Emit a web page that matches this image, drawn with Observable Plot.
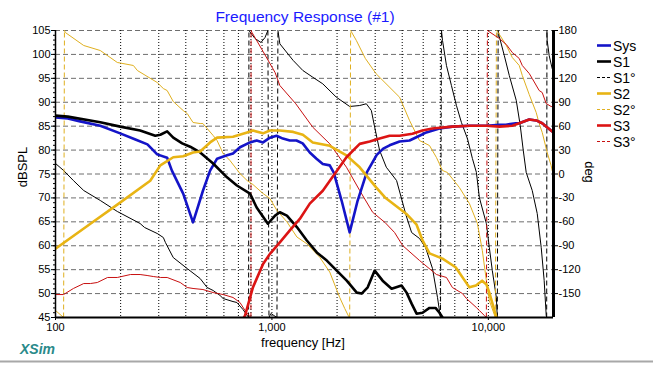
<!DOCTYPE html>
<html><head><meta charset="utf-8">
<script src="https://cdn.jsdelivr.net/npm/d3@7"></script>
<script src="https://cdn.jsdelivr.net/npm/@observablehq/plot@0.6"></script>
<style>
body{margin:0;background:#fff;}
#wrap{position:relative;width:653px;height:365px;overflow:hidden;}
</style></head>
<body><div id="wrap"></div>
<script>
// ---- data ----
const dbTicks = [45,50,55,60,65,70,75,80,85,90,95,100,105];
const degTicks = [180,150,120,90,60,30,0,-30,-60,-90,-120,-150];
const freqTicks = [100,1000,10000];
const freqGrid = [200,300,400,500,600,700,800,900,1000,2000,3000,4000,5000,6000,7000,8000,9000,10000];

const sysF  = [100,114,130,161,199,234,266,295,328,345,389,432,480,518,558,620,661,712,792,850,910,979,1050,1124,1210,1298,1387,1496,1607,1718,1850,1931,2100,2287,2488,2740,3050,3268,3497,3889,4324,4808,5170,5944,6820,8172,9800,11235,12040,13390,13890,15446,16640,17740,19720];
const sysDb = [86.8,86.6,86.0,85.1,83.5,82.2,81.2,79.1,78.4,75.7,70.9,64.9,71.5,75.7,78.2,78.9,79.3,80.6,81.6,82.0,81.6,82.6,83.0,82.4,82.0,82.0,81.4,79.5,78.2,77.1,76.8,75.3,69.4,62.8,69.4,75.3,79.0,80.3,81.0,81.8,82.0,83.0,83.7,84.5,84.9,85.1,85.1,85.3,85.3,85.6,85.6,86.4,86.2,85.6,83.9];

const s1F  = [100,114,161,199,246,289,305,328,350,385,419,466,535,620,689,792,850,958,1034,1088,1173,1304,1450,1612,1793,1993,2216,2465,2598,2770,2984,3247,3573,3972,4190,4420,4660,4966,5346,5700,5944,6140];
const s1Db = [87.2,87.0,85.8,84.9,84.1,83.0,83.2,83.9,82.6,81.4,80.7,79.5,77.2,74.3,72.6,70.9,68.0,64.6,66.3,67.0,66.3,63.9,61.1,58.6,56.9,54.8,52.7,50.2,50.0,51.3,54.8,52.7,51.0,51.7,50.2,47.9,45.8,46.0,47.0,47.0,46.0,45.0];

const s2F  = [100,145,193,274,305,350,389,432,466,518,558,661,768,817,910,979,1088,1254,1390,1544,1850,2210,2544,3030,3330,4170,4660,4966,5346,6140,7060,8172,8760,9360,9800,10104,10900];
const s2Db = [59.4,64.6,68.6,73.6,76.8,78.5,78.7,79.5,79.7,81.6,82.6,82.8,83.7,84.1,83.5,84.1,84.1,83.8,83.2,81.6,80.9,78.9,76.4,72.2,70.1,66.7,64.4,61.1,58.4,57.3,55.5,51.3,51.7,52.7,51.9,50.2,45.0];

const s3F  = [730,751,817,910,979,1088,1210,1345,1496,1718,2210,2544,2829,3145,3497,3889,4460,4960,5510,6820,8172,9800,11235,12900,13890,15446,16640,17740,19720];
const s3Db = [44.5,45.4,51.3,56.2,58.3,60.7,63.2,65.6,68.8,71.5,78.5,81.3,81.8,82.4,83.0,83.0,83.4,84.1,84.5,84.9,85.1,85.1,84.9,85.1,85.6,86.4,86.2,85.6,83.9];

// phase [Hz, deg] (wrapped at +-180)
const s1Phase = [[100,13.2],[109,4.4],[121,-8.2],[135,-20.7],[161,-33.2],[193,-47.0],[246,-62.1],[258,-67.1],[295,-74.6],[315,-79.7],[322,-85.9],[350,-104.8],[406,-118.6],[466,-131.1],[502,-142.4],[535,-146.1],[576,-152.4],[595,-156.2],[661,-160.0],[689,-161.2],[735,-170.0],[775,-178.8],[780,-180],
 [783,180],[835,170.0],[890,165.0],[929,171.2],[958,180],
 [969,-180],[989,-175],[1021,-177.5],[1055,-180],
 [1066,180],[1088,163.3],[1254,142.4],[1390,129.8],[1544,121.4],[1718,113.1],[1985,96.3],[2287,84.7],[2544,85.9],[2730,88.1],[2880,79.6],[2984,58.7],[3145,29.5],[3377,8.5],[3767,-8.2],[4170,-52.1],[4420,-73.4],[4808,-80.9],[5127,-92.2],[5520,-118.5],[5821,-154.9],[6010,-180],
 [6073,180],[6140,167.5],[6404,136.1],[6752,111.0],[7120,85.9],[7510,64.6],[8003,44.5],[8440,19.4],[8806,2.0],[9087,-29.5],[9790,-62.1],[10104,-92.2],[10430,-121.1],[10890,-154.9],[11000,-180],
 [11100,180],[11235,172.5],[11850,148.6],[12493,123.6],[13460,92.2],[14040,60.8],[14500,29.5],[14960,1.9],[15950,-20.7],[16820,-49.6],[17550,-92.2],[18110,-133.6],[18510,-177.5],[18600,-180],
 [18650,180],[18700,167.5],[19100,148.6],[19720,132.3]];
const s2Phase = [[100,-171.2],[109,-180],
 [110,180],[111,177.5],[135,161.2],[161,154.9],[193,139.9],[229,136.1],[239,129.8],[295,114.8],[315,107.2],[328,104.7],[350,90.9],[389,79.6],[406,75.9],[432,64.6],[466,63.3],[480,63.3],[535,48.3],[558,42.0],[595,25.7],[640,16.9],[712,0.6],[768,-8.2],[817,-13.2],[910,-24.5],[979,-30.7],[1055,-45.8],[1173,-60.0],[1304,-79.0],[1450,-87.5],[1664,-104.5],[1850,-123.0],[2057,-154.9],[2170,-168.7],[2264,-178.8],[2287,-180],
 [2310,180],[2455,167.5],[2700,145.0],[3030,125.7],[3889,96.3],[4324,67.1],[4808,42.0],[5346,35.7],[5757,20.7],[6140,4.4],[6470,1.9],[7350,-17.0],[8172,-37.0],[8900,-62.1],[9380,-96.0],[9790,-133.6],[10104,-158.7],[10770,-180],
 [10900,180],[11100,177.5],[12110,161.2],[12900,146.1],[13890,136.1],[14350,123.6],[15446,99.7],[16640,77.1],[17175,63.3],[17740,52.1],[18700,27.0],[19500,10.7],[19720,4.4]];
const s3Phase = [[100,-151.2],[109,-151.2],[121,-143.6],[135,-137.4],[145,-137.4],[156,-136.1],[174,-129.8],[193,-129.8],[222,-126.1],[246,-126.1],[265,-127.3],[283,-128.6],[305,-129.8],[328,-129.8],[377,-136.1],[406,-142.4],[432,-143.6],[480,-144.9],[535,-148.7],[595,-151.2],[661,-154.9],[712,-161.2],[751,-171.2],[783,-177.5],[800,-180],
 [801,180],[809,177.5],[910,153.7],[1034,127.3],[1088,111.0],[1290,88.0],[1544,58.7],[1850,37.9],[2210,8.5],[2544,-20.7],[2920,-48.0],[3330,-60.8],[3688,-73.4],[4017,-89.7],[4808,-108.5],[5757,-126.1],[6404,-129.8],[6823,-142.4],[7590,-149.9],[7920,-156.2],[8806,-167.5],[9087,-171.2],[9585,-177.5],[9790,-180],
 [9900,180],[11235,170.0],[12110,162.4],[12900,152.4],[13890,144.9],[14350,136.1],[15446,126.1],[15950,119.8],[17175,104.7],[17740,102.2],[18500,88.4],[19500,84.7],[19720,84.7]];

const legendNames = ["Sys","S1","S1°","S2","S2°","S3","S3°"];

// ---- build ----
const C = {sys:"#1414c8", s1:"#000000", s2:"#e8b414", s3:"#dc1414", s1p:"#000000", s2p:"#e0b020", s3p:"#c81010"};
const deg2v = d => 75 + d / 6;
function toRows(F, Y){ return F.map((f,i)=>({f, v:Y[i]})); }
function phaseParts(pairs){
  const rows=[], jumps=[]; let seg=0;
  pairs.forEach(([f,d],i)=>{
    if(i>0 && Math.abs(d - pairs[i-1][1]) > 180){
      seg++;
      jumps.push({f1:pairs[i-1][0], v1:deg2v(pairs[i-1][1]), f2:f, v2:deg2v(d)});
    }
    rows.push({f, v:deg2v(d), seg});
  });
  return {rows, jumps};
}
const ph = [[s1Phase,C.s1p],[s2Phase,C.s2p],[s3Phase,C.s3p]].map(([p,c])=>({...phaseParts(p), c}));

const phaseMarks = [];
ph.forEach(p=>{
  phaseMarks.push(Plot.line(p.rows,{x:"f",y:"v",z:"seg",stroke:p.c,strokeWidth:1,clip:true}));
  phaseMarks.push(Plot.link(p.jumps,{x1:"f1",y1:"v1",x2:"f2",y2:"v2",stroke:p.c,strokeWidth:1,strokeDasharray:"5,3",clip:true}));
});

const chart = Plot.plot({
  width:653, height:365,
  marginLeft:55, marginRight:100, marginTop:30, marginBottom:48,
  style:{fontFamily:"'Liberation Sans', Arial, sans-serif", fontSize:"11px", background:"white", color:"black"},
  x:{type:"log", domain:[100,20000]},
  y:{domain:[45,105]},
  marks:[
    Plot.ruleY(dbTicks,{stroke:"#6e6e6e",strokeWidth:1,strokeDasharray:"5,3"}),
    Plot.ruleX(freqGrid,{stroke:"#000",strokeWidth:1,strokeDasharray:"1,2"}),
    ...phaseMarks,
    Plot.line(toRows(sysF,sysDb),{x:"f",y:"v",stroke:C.sys,strokeWidth:2.6,clip:true}),
    Plot.line(toRows(s1F,s1Db),{x:"f",y:"v",stroke:C.s1,strokeWidth:2.6,clip:true}),
    Plot.line(toRows(s2F,s2Db),{x:"f",y:"v",stroke:C.s2,strokeWidth:2.6,clip:true}),
    Plot.line(toRows(s3F,s3Db),{x:"f",y:"v",stroke:C.s3,strokeWidth:2.6,clip:true}),
    Plot.ruleX([100],{stroke:"#000",strokeWidth:1.5}),
    Plot.ruleX([20000],{stroke:"#000",strokeWidth:3}),
    Plot.ruleY([45],{stroke:"#000",strokeWidth:2}),
    Plot.axisY({ticks:d3.range(45,106,1),tickSize:2,tickFormat:()=>"",label:null}),
    Plot.axisY({ticks:dbTicks,tickSize:4,tickPadding:1,label:null,fontSize:11}),
    Plot.axisY({anchor:"right",ticks:degTicks.map(deg2v),tickFormat:v=>String(Math.round((v-75)*6)),tickSize:4,tickPadding:1,label:null,fontSize:11}),
    Plot.axisX({ticks:freqTicks,tickFormat:d3.format(","),tickSize:3,tickPadding:3,label:null,fontSize:11})
  ]
});
document.getElementById("wrap").appendChild(chart);

const svg = d3.select(chart);
const ff = "'Liberation Sans', Arial, sans-serif";
svg.append("text").attr("x",305).attr("y",21.5).attr("text-anchor","middle")
  .attr("fill","#1a1aff").style("font-family",ff).style("font-size","15.5px").text("Frequency Response (#1)");
svg.append("text").attr("x",303).attr("y",347).attr("text-anchor","middle")
  .attr("fill","#000").style("font-family",ff).style("font-size","13px").text("frequency [Hz]");
svg.append("text").attr("transform","translate(27,167) rotate(-90)").attr("text-anchor","middle")
  .attr("fill","#000").style("font-family",ff).style("font-size","13px").text("dBSPL");
svg.append("text").attr("transform","translate(585,172) rotate(90)").attr("text-anchor","middle")
  .attr("fill","#000").style("font-family",ff).style("font-size","13px").text("deg");
svg.append("text").attr("x",20).attr("y",353.5).attr("text-anchor","start")
  .attr("fill","#2a8a8a").style("font-family",ff).style("font-size","14px").style("font-weight","bold").style("font-style","italic").text("XSim");
svg.append("line").attr("x1",0).attr("x2",653).attr("y1",361.5).attr("y2",361.5).attr("stroke","#a8a8a8").attr("stroke-width",2);

const legStyle = [
  {c:C.sys,w:2.6,d:null},{c:C.s1,w:2.6,d:null},{c:C.s1p,w:1,d:"3,2"},
  {c:C.s2,w:2.6,d:null},{c:C.s2p,w:1,d:"3,2"},{c:C.s3,w:2.6,d:null},{c:C.s3p,w:1,d:"3,2"}];
legendNames.forEach((n,i)=>{
  const y = 45.5 + i*16;
  const s = legStyle[i];
  svg.append("line").attr("x1",597).attr("x2",611).attr("y1",y).attr("y2",y)
    .attr("stroke",s.c).attr("stroke-width",s.w).attr("stroke-dasharray",s.d);
  svg.append("text").attr("x",613).attr("y",y+5).attr("text-anchor","start").attr("fill","#000")
    .style("font-family",ff).style("font-size","14px").text(n);
});
</script></body></html>
